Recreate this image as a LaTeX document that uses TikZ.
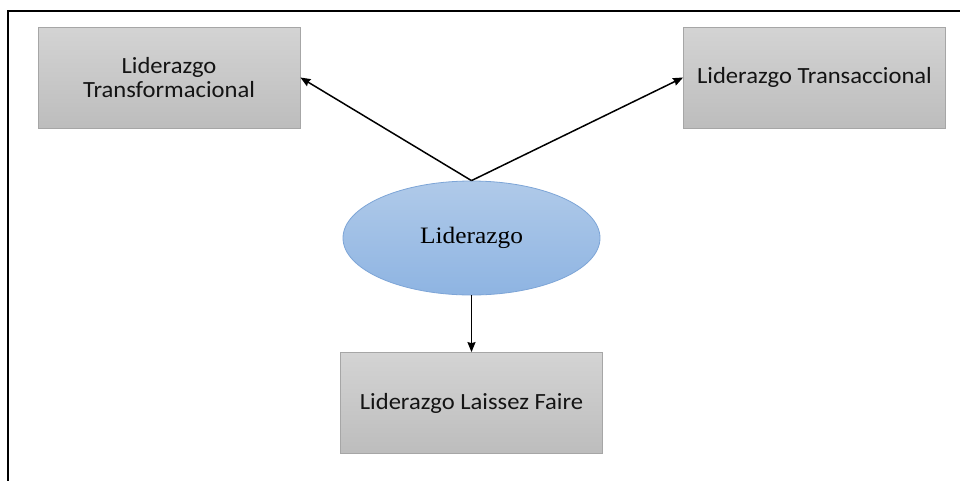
\documentclass[tikz,border=0pt]{standalone}
\usepackage{fontspec}
\usetikzlibrary{shapes.geometric,arrows.meta}
\newfontfamily\boxfont[FakeStretch=1.06]{Carlito}
\newfontfamily\ellfont[FakeStretch=1.08]{Liberation Serif}
\tikzset{
  graybox/.style={rectangle, draw=black!35, line width=0.8pt, top color=black!17, bottom color=black!26,
    minimum width=262pt, minimum height=101pt, inner sep=0pt, align=center,
    font=\boxfont\fontsize{23.2}{24.5}\selectfont, text=black!92},
  blueell/.style={ellipse, draw={rgb,255:red,125;green,165;blue,215}, line width=0.8pt,
    top color={rgb,255:red,176;green,202;blue,233}, bottom color={rgb,255:red,142;green,180;blue,226},
    minimum width=257pt, minimum height=114pt, inner sep=0pt,
    font=\ellfont\fontsize{23.5}{26}\selectfont},
  conn/.style={line width=1.5pt, -{Stealth[length=10pt,width=8pt,inset=1pt]}},
}
\begin{document}
\begin{tikzpicture}[x=1pt,y=-1pt]
\useasboundingbox (0,0) rectangle (960,480);
\fill[white] (0,0) rectangle (960,480);
\draw[line width=2pt] (8,481) -- (8,11) -- (961,11);
\node[graybox] (l) at (169,77.5) {Liderazgo\\Transformacional};
\node[graybox] (r) at (814.5,77.5) {Liderazgo Transaccional};
\node[graybox] (b) at (471.5,403) {Liderazgo Laissez Faire};
\node[blueell] (e) at (471.5,238) {Liderazgo};
\draw[conn] (e.north) -- (l.east);
\draw[conn] (e.north) -- (r.west);
\draw[conn] (e.south) -- (b.north);
\end{tikzpicture}
\end{document}
